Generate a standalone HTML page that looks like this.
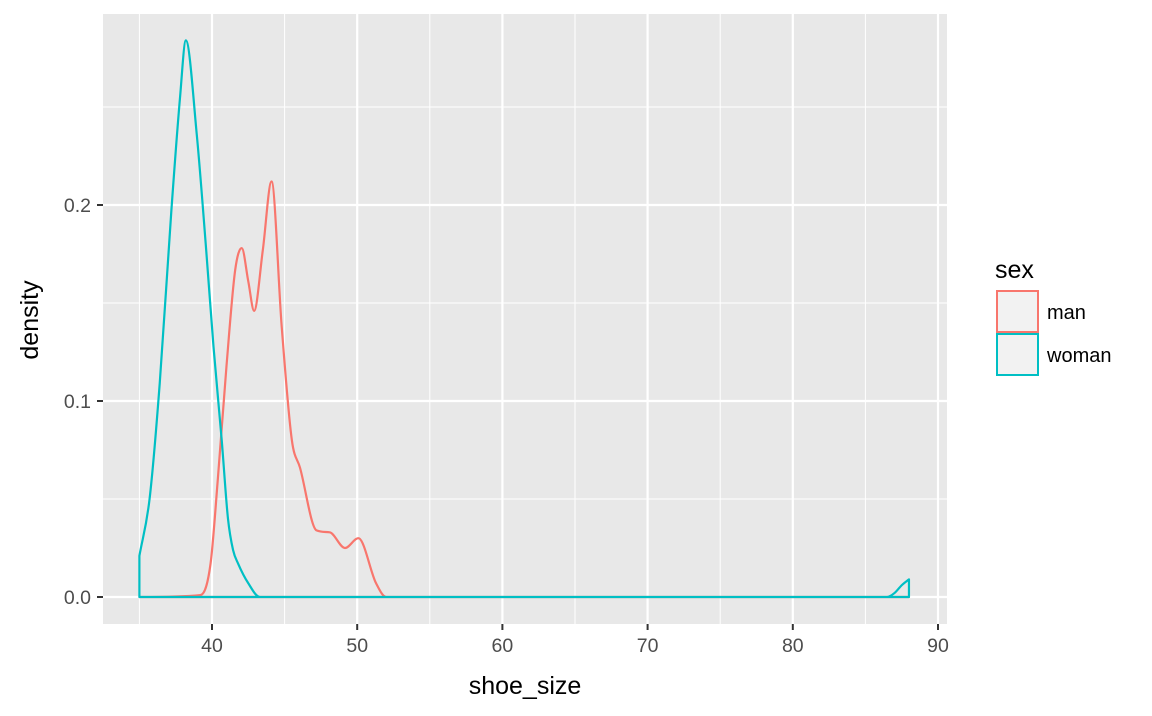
<!DOCTYPE html>
<html><head><meta charset="utf-8"><style>
body{margin:0;background:#fff;font-family:"Liberation Sans",sans-serif}
svg text{font-family:"Liberation Sans",sans-serif}
</style></head><body>
<svg id="chart" width="1152" height="711">
<rect x="103" y="14" width="844" height="610" fill="#e8e8e8"/>
<g id="grid"></g><g id="series"></g><g id="axes"></g>
<text x="525" y="694" font-size="25" text-anchor="middle" fill="#000">shoe_size</text>
<text transform="translate(38,320) rotate(-90)" font-size="25" text-anchor="middle" fill="#000">density</text>
<g>
<text x="995" y="278" font-size="25">sex</text>
<rect x="996" y="290" width="43" height="43" fill="#f2f2f2"/>
<rect x="997" y="291" width="41" height="41" fill="none" stroke="#F8766D" stroke-width="2"/>
<rect x="996" y="333" width="43" height="43" fill="#f2f2f2"/>
<rect x="997" y="334" width="41" height="41" fill="none" stroke="#00BFC4" stroke-width="2"/>
<text x="1047" y="319" font-size="20">man</text>
<text x="1047" y="362" font-size="20">woman</text>
</g>
</svg>
<script>
const xTicks=[40,50,60,70,80,90];
const xMinor=[35,45,55,65,75,85];
const yTicks=[0,0.1,0.2];
const yTickLabels=["0.0","0.1","0.2"];
const yMinor=[0.05,0.15,0.25];
const manX=[35,39.2,39.9,40.4,41.0,41.6,42.05,42.5,42.9,43.5,44.1,44.8,45.5,46.06,47.2,48.1,49.16,50.08,51.3,52.0,88];
const manY=[0,0.001,0.017,0.06,0.118,0.167,0.178,0.161,0.146,0.177,0.212,0.138,0.08,0.066,0.034,0.033,0.025,0.03,0.007,0,0];
const womanX=[35,35.7,36.4,37.2,37.8,38.2,38.95,39.6,40.1,40.67,41.1,41.45,41.8,42.5,43.3,86.5,87,87.5,88];
const womanY=[0.021,0.05,0.109,0.197,0.255,0.284,0.236,0.177,0.128,0.08,0.04,0.024,0.017,0.007,0,0,0.002,0.006,0.009];
const sx=v=>212+(v-40)*14.52;
const sy=v=>597-v*1960;
const NS="http://www.w3.org/2000/svg";
function mk(tag,attrs,parent){const e=document.createElementNS(NS,tag);for(const k in attrs)e.setAttribute(k,attrs[k]);parent.appendChild(e);return e;}
const grid=document.getElementById('grid'),axes=document.getElementById('axes'),series=document.getElementById('series');
xMinor.forEach(v=>{const l=mk('line',{x1:sx(v),x2:sx(v),y1:14,y2:624,stroke:'#fff','stroke-width':1},grid);

});
yMinor.forEach(v=>{const l=mk('line',{x1:103,x2:947,y1:sy(v),y2:sy(v),stroke:'#fff','stroke-width':1},grid);

});
xTicks.forEach(v=>{const l=mk('line',{x1:sx(v),x2:sx(v),y1:14,y2:624,stroke:'#fff','stroke-width':2.2},grid);


const t=mk('line',{x1:sx(v),x2:sx(v),y1:624,y2:630,stroke:'#333','stroke-width':2},axes);


const tx=mk('text',{x:sx(v),y:652,'font-size':19.5,'text-anchor':'middle',fill:'#4d4d4d'},axes);tx.textContent=v;

});
yTicks.forEach((v,i)=>{const l=mk('line',{x1:103,x2:947,y1:sy(v),y2:sy(v),stroke:'#fff','stroke-width':2.2},grid);


const t=mk('line',{x1:97,x2:103,y1:sy(v),y2:sy(v),stroke:'#333','stroke-width':2},axes);


const tx=mk('text',{x:91,y:sy(v)+7,'font-size':19.5,'text-anchor':'end',fill:'#4d4d4d'},axes);tx.textContent=yTickLabels[i];

});
function curve(xs,ys){
const n=xs.length,px=xs.map(sx),py=ys.map(v=>sy(v));
const dl=[],m=new Array(n);
for(let i=0;i<n-1;i++)dl.push((py[i+1]-py[i])/(px[i+1]-px[i]));
m[0]=dl[0];m[n-1]=dl[n-2];
for(let i=1;i<n-1;i++){m[i]=(dl[i-1]*dl[i]<=0)?0:(dl[i-1]+dl[i])/2;}
for(let i=0;i<n-1;i++){if(dl[i]===0){m[i]=0;m[i+1]=0;continue;}
const a=m[i]/dl[i],b=m[i+1]/dl[i],s=a*a+b*b;if(s>9){const t=3/Math.sqrt(s);m[i]=t*a*dl[i];m[i+1]=t*b*dl[i];}}
let d=`M${px[0]},${sy(0)} L${px[0]},${py[0]}`;
for(let i=0;i<n-1;i++){const h=(px[i+1]-px[i])/3;
d+=` C${px[i]+h},${py[i]+m[i]*h} ${px[i+1]-h},${py[i+1]-m[i+1]*h} ${px[i+1]},${py[i+1]}`;}
d+=` L${px[n-1]},${sy(0)} Z`;return d;}
const mm=mk('path',{d:curve(manX,manY),fill:'none',stroke:'#F8766D','stroke-width':2.2,'stroke-linejoin':'round'},series);


const w=mk('path',{d:curve(womanX,womanY),fill:'none',stroke:'#00BFC4','stroke-width':2.2,'stroke-linejoin':'round'},series);


</script>
</body></html>
